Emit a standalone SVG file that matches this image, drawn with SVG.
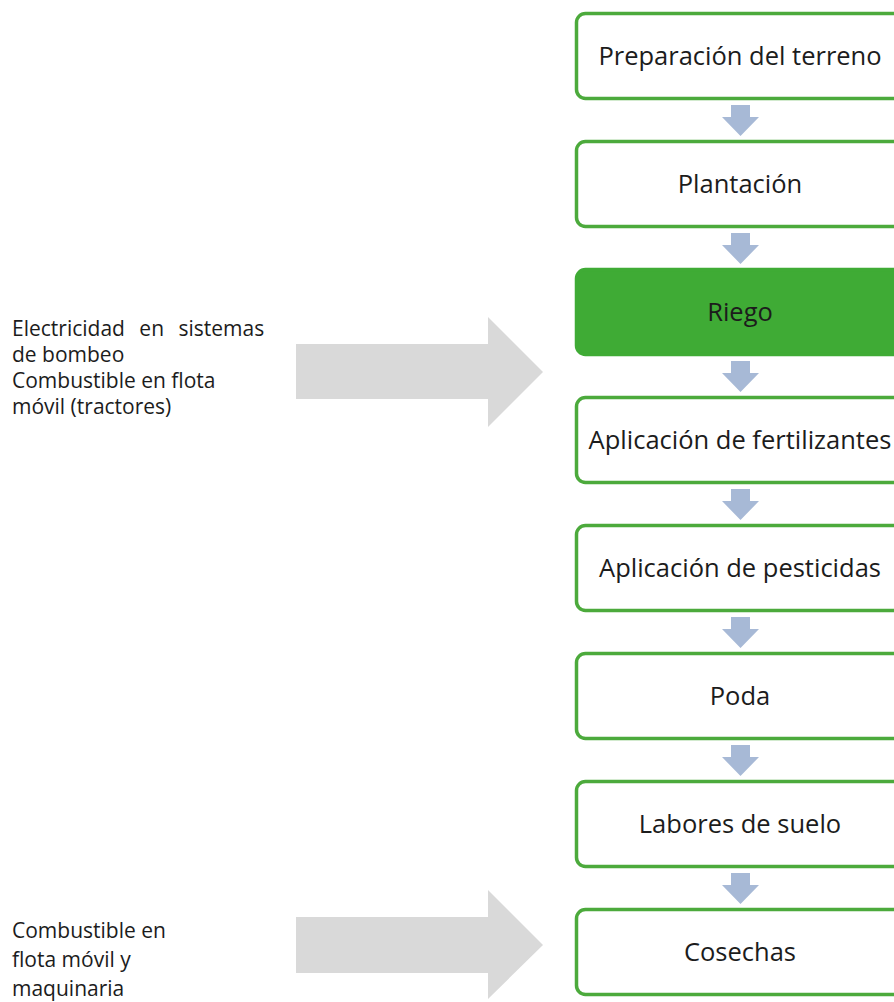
<svg xmlns="http://www.w3.org/2000/svg" width="894" height="1002" viewBox="0 0 894 1002">
<style>
.box{fill:#ffffff;stroke:#4caa3c;stroke-width:3.5}
.hl{fill:#3fab35;stroke:#3fab35;stroke-width:3.5}
.bt{font-family:"Open Sans","Noto Sans",sans-serif;font-size:25.5px;fill:#1c1c1c;text-anchor:middle}
.lt{font-family:"Open Sans","Noto Sans",sans-serif;font-size:21px;fill:#1c1c1c}
.sa{fill:#a7b9d6}
.ba{fill:#d9d9d9}
</style>
<defs>
<path id="small" d="M731,105 H750 V117 H759 L740.5,136 L722,117 H731 Z"/>
</defs>
<rect width="894" height="1002" fill="#ffffff"/>
<g id="connectors">
<use href="#small" class="sa"/>
<use href="#small" class="sa" transform="translate(0,128)"/>
<use href="#small" class="sa" transform="translate(0,256)"/>
<use href="#small" class="sa" transform="translate(0,384)"/>
<use href="#small" class="sa" transform="translate(0,512)"/>
<use href="#small" class="sa" transform="translate(0,640)"/>
<use href="#small" class="sa" transform="translate(0,768)"/>
<path class="ba" d="M296,344 H488 V317 L543,372 L488,427 V399 H296 Z"/>
<path class="ba" d="M296,917 H488 V890 L543,945 L488,999 V973 H296 Z"/>
</g>
<g id="n1"><rect class="box" x="576.5" y="13.5" width="330" height="85" rx="9"/><text class="bt" x="740" y="65">Preparación del terreno</text></g>
<g id="n2"><rect class="box" x="576.5" y="141.5" width="330" height="85" rx="9"/><text class="bt" x="740" y="193">Plantación</text></g>
<g id="n3"><rect class="hl" x="576.5" y="269.5" width="330" height="85" rx="9"/><text class="bt" x="740" y="321">Riego</text></g>
<g id="n4"><rect class="box" x="576.5" y="397.5" width="330" height="85" rx="9"/><text class="bt" x="740" y="449">Aplicación de fertilizantes</text></g>
<g id="n5"><rect class="box" x="576.5" y="525.5" width="330" height="85" rx="9"/><text class="bt" x="740" y="577">Aplicación de pesticidas</text></g>
<g id="n6"><rect class="box" x="576.5" y="653.5" width="330" height="85" rx="9"/><text class="bt" x="740" y="705">Poda</text></g>
<g id="n7"><rect class="box" x="576.5" y="781.5" width="330" height="85" rx="9"/><text class="bt" x="740" y="833">Labores de suelo</text></g>
<g id="n8"><rect class="box" x="576.5" y="909.5" width="330" height="85" rx="9"/><text class="bt" x="740" y="961">Cosechas</text></g>
<g id="label1">
<text class="lt" x="12" y="336" style="word-spacing:9px">Electricidad en sistemas</text>
<text class="lt" x="12" y="362">de bombeo</text>
<text class="lt" x="12" y="388">Combustible en flota</text>
<text class="lt" x="12" y="414">móvil (tractores)</text>
</g>
<g id="label2">
<text class="lt" x="12" y="938">Combustible en</text>
<text class="lt" x="12" y="967">flota móvil y</text>
<text class="lt" x="12" y="996">maquinaria</text>
</g>
</svg>
